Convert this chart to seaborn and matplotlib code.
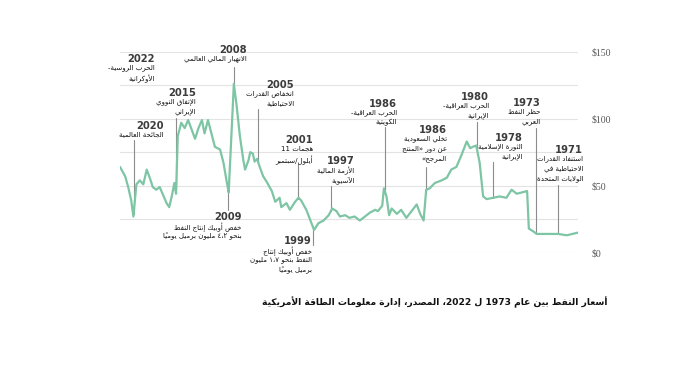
import numpy as np
import seaborn as sns
from matplotlib import pyplot as plt

# أسعار النفط (بالدولار، معدلة) مقروءة من الرسم
years = [
    1968.1, 1969.4, 1970.4, 1971.7, 1972.9, 1973.3, 1973.8,
    1974.0, 1974.6, 1975.2, 1975.8, 1976.4, 1977.2, 1977.9, 1978.7, 1979.1, 1979.5, 1979.9,
    1980.3, 1980.6, 1981.0, 1981.6, 1982.2, 1982.8, 1983.3, 1983.9, 1984.7, 1985.3, 1985.7,
    1986.0, 1986.4, 1986.8, 1987.4, 1988.0, 1988.6, 1989.1, 1989.7,
    1990.0, 1990.3, 1990.6, 1990.8, 1991.3, 1991.6, 1992.2, 1992.8, 1993.4, 1994.0, 1994.6,
    1995.1, 1995.7, 1996.1, 1996.6, 1997.0, 1997.6, 1998.2, 1998.7, 1999.0, 1999.6,
    2000.2, 2000.5, 2000.9, 2001.5, 2001.9, 2002.5, 2002.7, 2003.2, 2003.6, 2004.2, 2004.6,
    2005.0, 2005.3, 2005.6, 2005.8, 2006.1, 2006.3, 2006.7, 2006.9, 2007.3, 2007.7,
    2008.0, 2008.6, 2008.8, 2009.2, 2009.6, 2010.2, 2010.6, 2011.0, 2011.4, 2011.7,
    2012.1, 2012.5, 2012.9, 2013.3, 2013.7, 2014.1, 2014.5, 2014.7, 2014.9,
    2015.2, 2015.5, 2015.8, 2016.2, 2016.6, 2017.0, 2017.4, 2017.7, 2018.1, 2018.5, 2018.9,
    2019.3, 2019.65, 2019.9, 2020.25, 2020.6, 2021.2,
]
prices = [
    15, 13, 14, 14, 14, 16, 18,
    46, 45, 44, 47, 41, 42, 41, 40, 42, 67, 80,
    79, 78, 83, 73, 64, 62, 56, 54, 52, 48, 47,
    24, 29, 36, 31, 26, 32, 29, 33,
    28, 42, 48, 35, 31, 32, 30, 27, 24, 27, 26,
    28, 27, 31, 33, 28, 24, 22, 17, 22, 32,
    39, 41, 38, 32, 37, 34, 41, 38, 46, 53, 57,
    64, 70, 68, 74, 75, 69, 62, 69, 87, 111,
    126, 45, 52, 67, 77, 79, 89, 99, 89, 99,
    93, 85, 92, 99, 93, 97, 87, 44, 52,
    42, 34, 37, 43, 49, 47, 49, 55, 62, 51, 54,
    51, 27, 39, 49, 57, 64,
]

y_ticks = [0, 25, 50, 75, 100, 125, 150]
y_labels = ["$0", "", "$50", "", "$100", "", "$150"]

# الأحداث: السنة المكتوبة، النص، موضع الخط، حافة النص اليمنى، أعلى النص، طرف الخط
event_labels = ["2022", "2020", "2015", "2008", "2005", "2001", "1997", "2009", "1999",
                "1986", "1986", "1980", "1978", "1973", "1971"]
event_texts = [
    ["الحرب الروسية-", "الأوكرانية"],
    ["الجائحة العالمية"],
    ["الإتفاق النووي", "الإيراني"],
    ["الانهيار المالي العالمي"],
    ["انخفاض القدرات", "الاحتياطية"],
    ["هجمات 11", "أيلول/سبتمبر"],
    ["الأزمة المالية", "الآسيوية"],
    ["خفض أوبيك إنتاج النفط", "بنحو ٤،٢ مليون برميل يومياً"],
    ["خفض أوبيك إنتاج", "النفط بنحو ١،٧ مليون", "برميل يومياً"],
    ["الحرب العراقية-", "الكويتية"],
    ["تخلي السعودية", "عن دور «المنتج", "المرجح»"],
    ["الحرب العراقية-", "الإيرانية"],
    ["الثورة الإسلامية", "الإيرانية"],
    ["حظر النفط", "العربي"],
    ["استنفاد القدرات", "الاحتياطية في", "الولايات المتحدة"],
]
event_line_x = [None, 2019.62, 2014.68, 2008.0, 2005.2, 2000.6, 1996.75, 2008.7, 1998.84,
                1990.5, 1985.72, 1979.85, 1977.9, 1973.0, 1970.4]
event_text_x = [2017.2, 2016.1, 2012.4, 2006.5, 2001.0, 1998.8, 1994.0, 2007.1, 1998.96,
                1989.1, 1983.3, 1978.4, 1974.5, 1972.4, 1967.5]
event_text_y = [148.3, 98.3, 122.9, 155.0, 128.9, 87.8, 72.2, 30.4, 12.5,
                114.7, 95.3, 119.9, 89.3, 115.4, 80.4]
event_line_end = [None, 84.1, 100.5, 138.6, 107.0, 66.2, 49.8, 31.9, 5.7,
                  93.8, 64.0, 97.5, 67.7, 93.1, 50.5]

title = "أسعار النفط بين عام 1973 ل 2022، المصدر، إدارة معلومات الطاقة الأمريكية"

# matplotlib لا يشكّل الحروف العربية، لذا نحولها إلى الأشكال المتصلة ونعكس الترتيب
DUAL = dict(zip("ئبتثجحخسشصضطظعغفقكلمنهي",
                [0xFE89, 0xFE8F, 0xFE95, 0xFE99, 0xFE9D, 0xFEA1, 0xFEA5, 0xFEB1, 0xFEB5,
                 0xFEB9, 0xFEBD, 0xFEC1, 0xFEC5, 0xFEC9, 0xFECD, 0xFED1, 0xFED5, 0xFED9,
                 0xFEDD, 0xFEE1, 0xFEE5, 0xFEE9, 0xFEF1]))
RIGHT = dict(zip("آأؤإاةدذرزوى",
                 [0xFE81, 0xFE83, 0xFE85, 0xFE87, 0xFE8D, 0xFE93, 0xFEA9, 0xFEAB, 0xFEAD,
                  0xFEAF, 0xFEED, 0xFEEF]))
LAM_ALEF = dict(zip("آأإا", [0xFEF5, 0xFEF7, 0xFEF9, 0xFEFB]))
MIRROR = {"«": "»", "»": "«", "(": ")", ")": "("}


def shape(s):
    toks = []
    i = 0
    while i < len(s):
        c = s[i]
        if "\u064B" <= c <= "\u0652" and toks:
            toks[-1][1] += c
            i += 1
            continue
        if c == "ل" and i + 1 < len(s) and s[i + 1] in LAM_ALEF:
            toks.append(["LA" + s[i + 1], ""])
            i += 2
            continue
        toks.append([c, ""])
        i += 1

    def kind(t):
        if t[0] in DUAL:
            return "D"
        if t[0] in RIGHT or t[0].startswith("LA"):
            return "R"
        return "N"

    glyphs = []
    for k, t in enumerate(toks):
        c, kd = t[0], kind(t)
        prev = k > 0 and kind(toks[k - 1]) == "D"
        nxt = k + 1 < len(toks) and kind(toks[k + 1]) != "N"
        if c.startswith("LA"):
            g = chr(LAM_ALEF[c[2]] + prev)
        elif kd == "D":
            g = chr(DUAL[c] + (3 if prev and nxt else 1 if prev else 2 if nxt else 0))
        elif kd == "R":
            g = chr(RIGHT[c] + prev)
        else:
            g = c
        glyphs.append((g + t[1], c))

    segs = []
    for idx, (g, c) in enumerate(glyphs):
        isnum = c.isdigit() or (c in ".،" and 0 < idx < len(glyphs) - 1
                                and glyphs[idx - 1][1].isdigit() and glyphs[idx + 1][1].isdigit())
        if segs and segs[-1][0] == isnum:
            segs[-1][1].append(g)
        else:
            segs.append([isnum, [g]])
    out = ""
    for isnum, gs in reversed(segs):
        out += "".join(gs if isnum else [MIRROR.get(x, x) for x in reversed(gs)])
    return out


sns.set_style("white")
plt.rcParams["font.family"] = ["DejaVu Sans"]

fig = plt.figure(figsize=(6.91, 3.75), dpi=100)
ax = fig.add_axes([120 / 691, 122.3 / 375, 458 / 691, 201 / 375])

line_color = "#7dc5a4"
sns.lineplot(x=years, y=prices, ax=ax, color=line_color, lw=1.6, estimator=None, zorder=3)

ax.set_xlim(2021.2, 1968.1)
ax.set_ylim(0, 150)
ax.set_yticks(y_ticks)
ax.set_yticklabels(y_labels, family="Liberation Serif", fontsize=7, color="#555555")
ax.yaxis.tick_right()
ax.tick_params(axis="y", length=0, pad=10)
ax.set_xticks([])
ax.grid(axis="y", color="#e3e3e3", lw=0.8)
for sp in ax.spines.values():
    sp.set_visible(False)

lead_color = "#8c8c8c"
year_color = "#3c3c3c"
for lab, lines, lx, tx, ty, lend in zip(event_labels, event_texts, event_line_x,
                                        event_text_x, event_text_y, event_line_end):
    if lx is not None:
        val = np.interp(lx, years, prices)
        ax.plot([lx, lx], [val, lend], color=lead_color, lw=0.8, zorder=2, clip_on=False)
    ax.text(tx, ty, lab, ha="right", va="top", fontsize=7.2, fontweight="bold",
            color=year_color, clip_on=False)
    for k, ln in enumerate(lines):
        ax.annotate(shape(ln), xy=(tx, ty), xycoords="data", xytext=(0, -7.4 - 7.2 * k),
                    textcoords="offset points", ha="right", va="top", fontsize=5.0,
                    color="#111111", annotation_clip=False)

fig.text(607 / 691, 1 - 302 / 375, shape(title), ha="right", va="center",
         fontsize=6.6, fontweight="bold", color="#111111")

fig.savefig("out.png", dpi=100, facecolor="white")
